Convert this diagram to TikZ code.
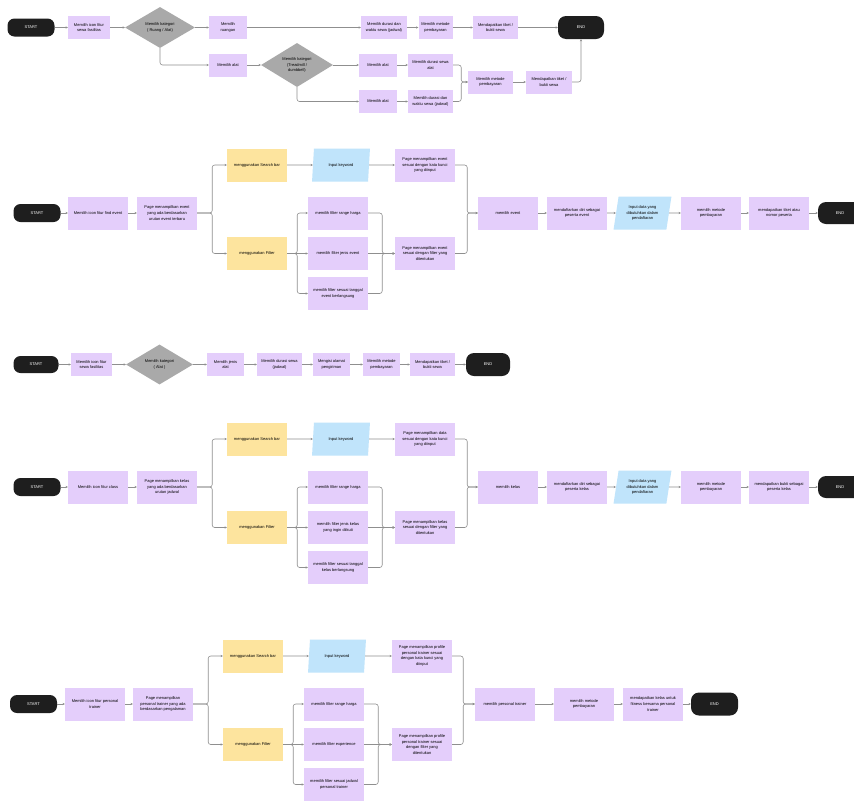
\documentclass[tikz,border=0pt]{standalone}
\usepackage{fontspec}
\setmainfont{Liberation Sans}
\usetikzlibrary{shapes.geometric,arrows.meta}
\definecolor{purp}{HTML}{E4CEFB}
\definecolor{yel}{HTML}{FDE49E}
\definecolor{blu}{HTML}{C0E4FB}
\definecolor{dgr}{HTML}{A9A9A9}
\definecolor{blk}{HTML}{1E1E1E}
\definecolor{linec}{HTML}{8F8F8F}
\tikzset{
 base/.style={font=\fontsize{4}{5.6}\selectfont, inner sep=1pt, align=flush center},
 term/.style={base, fill=blk, text=white, rounded corners=7pt, minimum width=47pt, minimum height=18pt},
 pbox/.style={base, fill=purp, minimum width=60pt, minimum height=33pt, text width=50pt},
 ybox/.style={pbox, fill=yel},
 sbox/.style={base, fill=purp, minimum height=23pt},
 para/.style={base, fill=blu, trapezium, trapezium left angle=76, trapezium right angle=104, trapezium stretches=true, minimum width=58pt, minimum height=33pt, text width=38pt},
 dia/.style={base, fill=dgr, diamond, inner sep=0pt},
 conn/.style={draw=linec, line width=0.6pt, rounded corners=2.5pt, -{Stealth[length=2.2pt,width=2.2pt]}},
}
\begin{document}
\begin{tikzpicture}[x=1pt,y=-1pt]
\useasboundingbox (0,0) rectangle (854,801);
\fill[white] (0,0) rectangle (854,801);

% ---------------- Row 1 ----------------
\node[term] (s1) at (31,27.5) {START};
\node[sbox, minimum width=42pt, text width=36pt] (a1) at (89,27.5) {Memilih icon fitur sewa fasilitas};
\node[dia, minimum width=70pt, minimum height=41pt] (d1) at (160,27.5) {Memilih kategori\\( Ruang / Alat)};
\node[sbox, minimum width=38pt, text width=24pt] (a2) at (228,27.5) {Memilih ruangan};
\node[sbox, minimum width=46pt, text width=40pt] (a3) at (384,27.5) {Memilih durasi dan waktu sewa (jadwal)};
\node[sbox, minimum width=34pt, text width=30pt] (a4) at (435.5,27.5) {Memilih metode pembayaran};
\node[sbox, minimum width=45pt, text width=39pt] (a5) at (495.5,27.5) {Mendapatkan tiket / bukti sewa};
\node[term, minimum width=46pt, minimum height=23pt, rounded corners=8pt] (e1) at (581,27.5) {END};

\node[sbox, minimum width=38pt, text width=32pt] (b1) at (228,65) {Memilih alat};
\node[dia, minimum width=72pt, minimum height=40pt] (d2) at (297,65) {Memilih kategori\\(Treadmill /\\dumbbell)};
\node[sbox, minimum width=38pt, text width=32pt] (b2) at (378,65) {Memilih alat};
\node[sbox, minimum width=45pt, text width=39pt] (b3) at (430.5,65) {Memilih durasi sewa alat};
\node[sbox, minimum width=38pt, text width=32pt] (b4) at (378,101.5) {Memilih alat};
\node[sbox, minimum width=45pt, text width=39pt] (b5) at (430.5,101.5) {Memilih durasi dan waktu sewa (jadwal)};
\node[sbox, minimum width=45pt, text width=39pt] (b6) at (490.5,82) {Memilih metode pembayaran};
\node[sbox, minimum width=46pt, text width=40pt] (b7) at (549,82) {Mendapatkan tiket / bukti sewa};

\draw[conn] (s1) -- (a1);
\draw[conn] (a1) -- (d1);
\draw[conn] (d1) -- (a2);
\draw[conn] (a2) -- (a3);
\draw[conn] (a3) -- (a4);
\draw[conn] (a4) -- (a5);
\draw[conn] (a5) -- (e1);
\draw[conn] (d1.south) |- (b1.west);
\draw[conn] (b1) -- (d2);
\draw[conn] (d2) -- (b2);
\draw[conn] (d2.south) |- (b4.west);
\draw[conn] (b2) -- (b3);
\draw[conn] (b4) -- (b5);
\draw[conn] (b3.east) -- ++(8,0) |- (b6.west);
\draw[conn] (b5.east) -- ++(8,0) |- (b6.west);
\draw[conn] (b6) -- (b7);
\draw[conn] (b7.east) -| (e1.south);

% ---------------- Row 2 ----------------
\node[term] (s2) at (37,213) {START};
\node[pbox] (c1) at (98,213) {Memilih icon fitur find event};
\node[pbox] (c2) at (167,213) {Page menampilkan event yang ada berdasarkan urutan event terbaru};
\node[ybox] (c3) at (257,165) {menggunakan Search bar};
\node[para] (c4) at (341,165) {Input keyword};
\node[pbox] (c5) at (425,165) {Page menampilkan event sesuai dengan kata kunci yang diinput};
\node[ybox] (c6) at (257,253.5) {menggunakan Filter};
\node[pbox] (c7) at (338,213) {memilih filter range harga};
\node[pbox] (c8) at (338,253.5) {memilih filter jenis event};
\node[pbox] (c9) at (338,293.5) {memilih filter sesuai tanggal event berlangsung};
\node[pbox] (c10) at (425,253.5) {Page menampilkan event sesuai dengan filter yang ditentukan};
\node[pbox] (c11) at (508,213) {memilih event};
\node[pbox] (c12) at (577,213) {mendaftarkan diri sebagai peserta event};
\node[para] (c13) at (642.5,213) {Input data yang dibutuhkan dalam pendaftaran};
\node[pbox] (c14) at (711,213) {memilih metode pembayaran};
\node[pbox] (c15) at (779,213) {mendapatkan tiket atau nomor peserta};
\node[term, minimum width=44pt, minimum height=22pt, rounded corners=8pt] (e2) at (840,213) {END};

\draw[conn] (s2) -- (c1);
\draw[conn] (c1) -- (c2);
\draw[conn] (c2.east) -- ++(15,0) |- (c3.west);
\draw[conn] (c2.east) -- ++(15,0) |- (c6.west);
\draw[conn] (c3) -- (c4);
\draw[conn] (c4) -- (c5);
\draw[conn] (c6.east) -- ++(10,0) |- (c7.west);
\draw[conn] (c6) -- (c8);
\draw[conn] (c6.east) -- ++(10,0) |- (c9.west);
\draw[conn] (c7.east) -- ++(14,0) |- (c10.west);
\draw[conn] (c8) -- (c10);
\draw[conn] (c9.east) -- ++(14,0) |- (c10.west);
\draw[conn] (c5.east) -- ++(12,0) |- (c11.west);
\draw[conn] (c10.east) -- ++(12,0) |- (c11.west);
\draw[conn] (c11) -- (c12);
\draw[conn] (c12) -- (c13);
\draw[conn] (c13) -- (c14);
\draw[conn] (c14) -- (c15);
\draw[conn] (c15) -- (e2);

% ---------------- Row 3 ----------------
\node[term, minimum width=45pt, minimum height=17pt] (s3) at (36,364.5) {START};
\node[sbox, minimum width=41pt, text width=35pt] (f1) at (91.5,364.5) {Memilih icon fitur sewa fasilitas};
\node[dia, minimum width=67pt, minimum height=40pt] (d3) at (159.5,364.5) {Memilih kategori\\( Alat )};
\node[sbox, minimum width=37pt, text width=26pt] (f2) at (225.5,364.5) {Memilih jenis alat};
\node[sbox, minimum width=45pt, text width=39pt] (f3) at (279.5,364.5) {Memilih durasi sewa (jadwal)};
\node[sbox, minimum width=37pt, text width=31pt] (f4) at (331.5,364.5) {Mengisi alamat pengiriman};
\node[sbox, minimum width=37pt, text width=31pt] (f5) at (381.5,364.5) {Memilih metode pembayaran};
\node[sbox, minimum width=45pt, text width=39pt] (f6) at (432.5,364.5) {Mendapatkan tiket / bukti sewa};
\node[term, minimum width=44pt, minimum height=23pt, rounded corners=8pt] (e3) at (488,364.5) {END};

\draw[conn] (s3) -- (f1);
\draw[conn] (f1) -- (d3);
\draw[conn] (d3) -- (f2);
\draw[conn] (f2) -- (f3);
\draw[conn] (f3) -- (f4);
\draw[conn] (f4) -- (f5);
\draw[conn] (f5) -- (f6);
\draw[conn] (f6) -- (e3);

% ---------------- Row 4 ----------------
\node[term] (s4) at (37,487) {START};
\node[pbox] (h1) at (98,487) {Memilih icon fitur class};
\node[pbox] (h2) at (167,487) {Page menampilkan kelas yang ada berdasarkan urutan jadwal};
\node[ybox] (h3) at (257,439) {menggunakan Search bar};
\node[para] (h4) at (341,439) {Input keyword};
\node[pbox] (h5) at (425,439) {Page menampilkan data sesuai dengan kata kunci yang diinput};
\node[ybox] (h6) at (257,527.5) {menggunakan Filter};
\node[pbox] (h7) at (338,487) {memilih filter range harga};
\node[pbox] (h8) at (338,527.5) {memilih filter jenis kelas yang ingin diikuti};
\node[pbox] (h9) at (338,567.5) {memilih filter sesuai tanggal kelas berlangsung};
\node[pbox] (h10) at (425,527.5) {Page menampilkan kelas sesuai dengan filter yang ditentukan};
\node[pbox] (h11) at (508,487) {memilih kelas};
\node[pbox] (h12) at (577,487) {mendaftarkan diri sebagai peserta kelas};
\node[para] (h13) at (642.5,487) {Input data yang dibutuhkan dalam pendaftaran};
\node[pbox] (h14) at (711,487) {memilih metode pembayaran};
\node[pbox] (h15) at (779,487) {mendapatkan bukti sebagai peserta kelas};
\node[term, minimum width=44pt, minimum height=22pt, rounded corners=8pt] (e4) at (840,487) {END};

\draw[conn] (s4) -- (h1);
\draw[conn] (h1) -- (h2);
\draw[conn] (h2.east) -- ++(15,0) |- (h3.west);
\draw[conn] (h2.east) -- ++(15,0) |- (h6.west);
\draw[conn] (h3) -- (h4);
\draw[conn] (h4) -- (h5);
\draw[conn] (h6.east) -- ++(10,0) |- (h7.west);
\draw[conn] (h6) -- (h8);
\draw[conn] (h6.east) -- ++(10,0) |- (h9.west);
\draw[conn] (h7.east) -- ++(14,0) |- (h10.west);
\draw[conn] (h8) -- (h10);
\draw[conn] (h9.east) -- ++(14,0) |- (h10.west);
\draw[conn] (h5.east) -- ++(12,0) |- (h11.west);
\draw[conn] (h10.east) -- ++(12,0) |- (h11.west);
\draw[conn] (h11) -- (h12);
\draw[conn] (h12) -- (h13);
\draw[conn] (h13) -- (h14);
\draw[conn] (h14) -- (h15);
\draw[conn] (h15) -- (e4);

% ---------------- Row 5 ----------------
\node[term] (s5) at (33.5,704) {START};
\node[pbox] (g1) at (95,704) {Memilih icon fitur personal trainer};
\node[pbox] (g2) at (163,704) {Page menampilkan personal trainer yang ada berdasarkan pengalaman};
\node[ybox] (g3) at (253,656) {menggunakan Search bar};
\node[para] (g4) at (337,656) {Input keyword};
\node[pbox] (g5) at (422,656) {Page menampilkan profile personal trainer sesuai dengan kata kunci yang diinput};
\node[ybox] (g6) at (253,744.5) {menggunakan Filter};
\node[pbox] (g7) at (334,704) {memilih filter range harga};
\node[pbox] (g8) at (334,744.5) {memilih filter experience};
\node[pbox] (g9) at (334,784.5) {memilih filter sesuai jadwal personal trainer};
\node[pbox] (g10) at (422,744.5) {Page menampilkan profile personal trainer sesuai dengan filter yang ditentukan};
\node[pbox] (g11) at (505,704) {memilih personal trainer};
\node[pbox] (g12) at (584,704) {memilih metode pembayaran};
\node[pbox] (g13) at (653,704) {mendapatkan kelas untuk fitness bersama personal trainer};
\node[term, minimum width=47pt, minimum height=23pt, rounded corners=8pt] (e5) at (714.5,704) {END};

\draw[conn] (s5) -- (g1);
\draw[conn] (g1) -- (g2);
\draw[conn] (g2.east) -- ++(15,0) |- (g3.west);
\draw[conn] (g2.east) -- ++(15,0) |- (g6.west);
\draw[conn] (g3) -- (g4);
\draw[conn] (g4) -- (g5);
\draw[conn] (g6.east) -- ++(10,0) |- (g7.west);
\draw[conn] (g6) -- (g8);
\draw[conn] (g6.east) -- ++(10,0) |- (g9.west);
\draw[conn] (g7.east) -- ++(14,0) |- (g10.west);
\draw[conn] (g8) -- (g10);
\draw[conn] (g9.east) -- ++(14,0) |- (g10.west);
\draw[conn] (g5.east) -- ++(11,0) |- (g11.west);
\draw[conn] (g10.east) -- ++(11,0) |- (g11.west);
\draw[conn] (g11) -- (g12);
\draw[conn] (g12) -- (g13);
\draw[conn] (g13) -- (e5);
\end{tikzpicture}
\end{document}
